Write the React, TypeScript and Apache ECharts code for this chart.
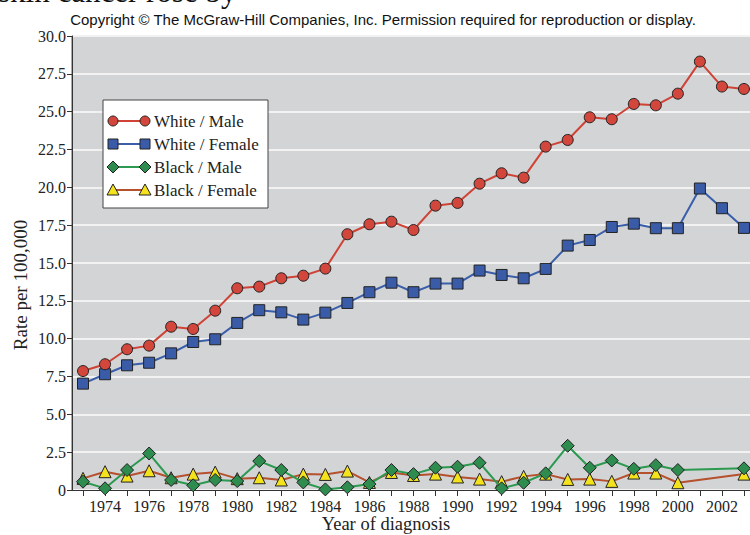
import React, { useEffect, useRef } from "react";
import * as echarts from "echarts";

const years: string[] = [
  "1973","1974","1975","1976","1977","1978","1979","1980","1981","1982",
  "1983","1984","1985","1986","1987","1988","1989","1990","1991","1992",
  "1993","1994","1995","1996","1997","1998","1999","2000","2001","2002",
  "2003","2004",
];

const whiteMale: (number | null)[] = [
  7.86, 8.31, 9.3, 9.54, 10.79, 10.64, 11.85, 13.33, 13.44, 13.99,
  14.16, 14.63, 16.9, 17.56, 17.73, 17.18, 18.79, 18.97, 20.24, 20.93,
  20.64, 22.69, 23.13, 24.63, 24.5, 25.51, 25.42, 26.19, 28.31, 26.66,
  26.5, null,
];

const whiteFemale: (number | null)[] = [
  7.03, 7.65, 8.24, 8.41, 9.03, 9.78, 9.96, 11.04, 11.88, 11.74,
  11.26, 11.72, 12.36, 13.07, 13.7, 13.07, 13.64, 13.64, 14.5, 14.21,
  13.99, 14.61, 16.15, 16.52, 17.38, 17.6, 17.3, 17.3, 19.92, 18.62,
  17.32, null,
];

const blackMale: (number | null)[] = [
  0.55, 0.11, 1.32, 2.41, 0.66, 0.31, 0.66, 0.59, 1.91, 1.32,
  0.5, 0.04, 0.18, 0.39, 1.32, 1.05, 1.47, 1.54, 1.8, 0.11,
  0.48, 1.1, 2.92, 1.47, 1.95, 1.4, 1.64, 1.32, null, null,
  1.43, null,
];

const blackFemale: (number | null)[] = [
  0.77, 1.21, 0.92, 1.27, 0.81, 1.05, 1.18, 0.75, 0.81, 0.66,
  1.05, 1.03, 1.25, 0.5, 1.16, 0.96, 1.05, 0.86, 0.72, 0.55,
  0.9, 1.05, 0.7, 0.72, 0.57, 1.12, 1.12, 0.48, null, null,
  1.05, null,
];

const seriesNames = ["White / Male", "White / Female", "Black / Male", "Black / Female"];
const lineColors = ["#cf4236", "#3a5ea9", "#2b9a50", "#b5512d"];
const markerColors = ["#d2463b", "#3a5ca8", "#2d8c4e", "#f3e21c"];
const symbols = ["circle", "rect", "diamond", "triangle"];
const symbolSizes = [11, 11, 13, 12];

const xTitle = "Year of diagnosis";
const yTitle = "Rate per 100,000";

const SERIF = "'Liberation Serif', 'DejaVu Serif', serif";
const SANS = "'Liberation Sans', Arial, sans-serif";

function legendSymbol(kind: string, cx: number, cy: number, fill: string): any {
  const style = { fill, stroke: "#222", lineWidth: 1 };
  const z = 102;
  if (kind === "circle") return { type: "circle", z, shape: { cx, cy, r: 5 }, style };
  if (kind === "rect") return { type: "rect", z, shape: { x: cx - 5, y: cy - 5, width: 10, height: 10 }, style };
  if (kind === "diamond")
    return { type: "polygon", z, shape: { points: [[cx, cy - 6], [cx + 6, cy], [cx, cy + 6], [cx - 6, cy]] }, style };
  return { type: "polygon", z, shape: { points: [[cx, cy - 6], [cx + 6, cy + 5], [cx - 6, cy + 5]] }, style };
}

export default function App() {
  const ref = useRef<HTMLDivElement>(null);

  useEffect(() => {
    if (!ref.current) return;
    const chart = echarts.init(ref.current, undefined, { renderer: "svg" });
    const dataSets = [whiteMale, whiteFemale, blackMale, blackFemale];

    const legendChildren: any[] = [
      {
        type: "rect",
        z: 100,
        shape: { x: 103, y: 100, width: 165, height: 108 },
        style: { fill: "#ffffff", stroke: "#444", lineWidth: 1 },
      },
    ];
    seriesNames.forEach((name, i) => {
      const y = 121 + i * 23;
      legendChildren.push({
        type: "line",
        z: 101,
        shape: { x1: 113, y1: y, x2: 145, y2: y },
        style: { stroke: lineColors[i], lineWidth: 2 },
      });
      legendChildren.push(legendSymbol(symbols[i], 113, y, markerColors[i]));
      legendChildren.push(legendSymbol(symbols[i], 145, y, markerColors[i]));
      legendChildren.push({
        type: "text",
        z: 102,
        x: 154,
        y,
        style: {
          text: name,
          fontFamily: SERIF,
          fontSize: 17,
          fill: "#222",
          verticalAlign: "middle",
          textAlign: "left",
        },
      });
    });

    chart.setOption({
      animation: false,
      backgroundColor: "#ffffff",
      grid: {
        left: 72,
        top: 36,
        width: 705,
        height: 454,
        outerBoundsMode: "none",
        containLabel: false,
        show: true,
        backgroundColor: "#d3d4d6",
        borderColor: "#555",
        borderWidth: 1,
      },
      xAxis: {
        type: "category",
        data: years,
        boundaryGap: true,
        axisLine: { show: true, lineStyle: { color: "#333", width: 1 } },
        axisTick: {
          show: true,
          alignWithLabel: true,
          interval: 0,
          length: 6,
          lineStyle: { color: "#333" },
        },
        axisLabel: {
          interval: (_i: number, v: string) => Number(v) % 2 === 0 && Number(v) < 2004,
          fontFamily: SERIF,
          fontSize: 16,
          color: "#222",
          margin: 8,
        },
        splitLine: { show: false },
      },
      yAxis: {
        type: "value",
        min: 0,
        max: 30,
        interval: 2.5,
        axisLine: { show: true, lineStyle: { color: "#333", width: 1 } },
        axisTick: { show: true, length: 5, lineStyle: { color: "#333" } },
        axisLabel: {
          formatter: (v: number) => (v === 0 ? "0" : v.toFixed(1)),
          fontFamily: SERIF,
          fontSize: 16,
          color: "#222",
          margin: 6,
        },
        splitLine: { show: true, lineStyle: { color: "#f2f2f2", width: 2 } },
      },
      series: seriesNames.map((name, i) => ({
        name,
        type: "line",
        data: dataSets[i],
        connectNulls: true,
        symbol: symbols[i],
        symbolSize: symbolSizes[i],
        showSymbol: true,
        lineStyle: { color: lineColors[i], width: 2 },
        itemStyle: { color: markerColors[i], borderColor: "#222", borderWidth: 1 },
        z: 10 - i,
      })),
      graphic: [
        {
          type: "text",
          x: -2,
          y: 7,
          z: 100,
          style: {
            text: "skin cancer rose by",
            fontFamily: SERIF,
            fontSize: 31,
            fill: "#111",
            textAlign: "left",
            verticalAlign: "bottom",
          },
        },
        {
          type: "text",
          x: 383,
          y: 19,
          z: 100,
          style: {
            text: "Copyright © The McGraw-Hill Companies, Inc. Permission required for reproduction or display.",
            fontFamily: SANS,
            fontSize: 15,
            fill: "#111",
            textAlign: "center",
            verticalAlign: "middle",
          },
        },
        {
          type: "text",
          x: 386,
          y: 524,
          z: 100,
          style: {
            text: xTitle,
            fontFamily: SERIF,
            fontSize: 18.5,
            fill: "#222",
            textAlign: "center",
            verticalAlign: "middle",
          },
        },
        {
          type: "text",
          x: 20,
          y: 285,
          rotation: Math.PI / 2,
          z: 100,
          style: {
            text: yTitle,
            fontFamily: SERIF,
            fontSize: 19,
            fill: "#222",
            textAlign: "center",
            verticalAlign: "middle",
          },
        },
        { type: "group", z: 100, children: legendChildren },
      ],
    });
    return () => chart.dispose();
  }, []);

  return (
    <div style={{ position: "absolute", left: 0, top: 0, width: 750, height: 535, overflow: "hidden" }}>
      <div ref={ref} style={{ width: 750, height: 535 }} />
    </div>
  );
}
